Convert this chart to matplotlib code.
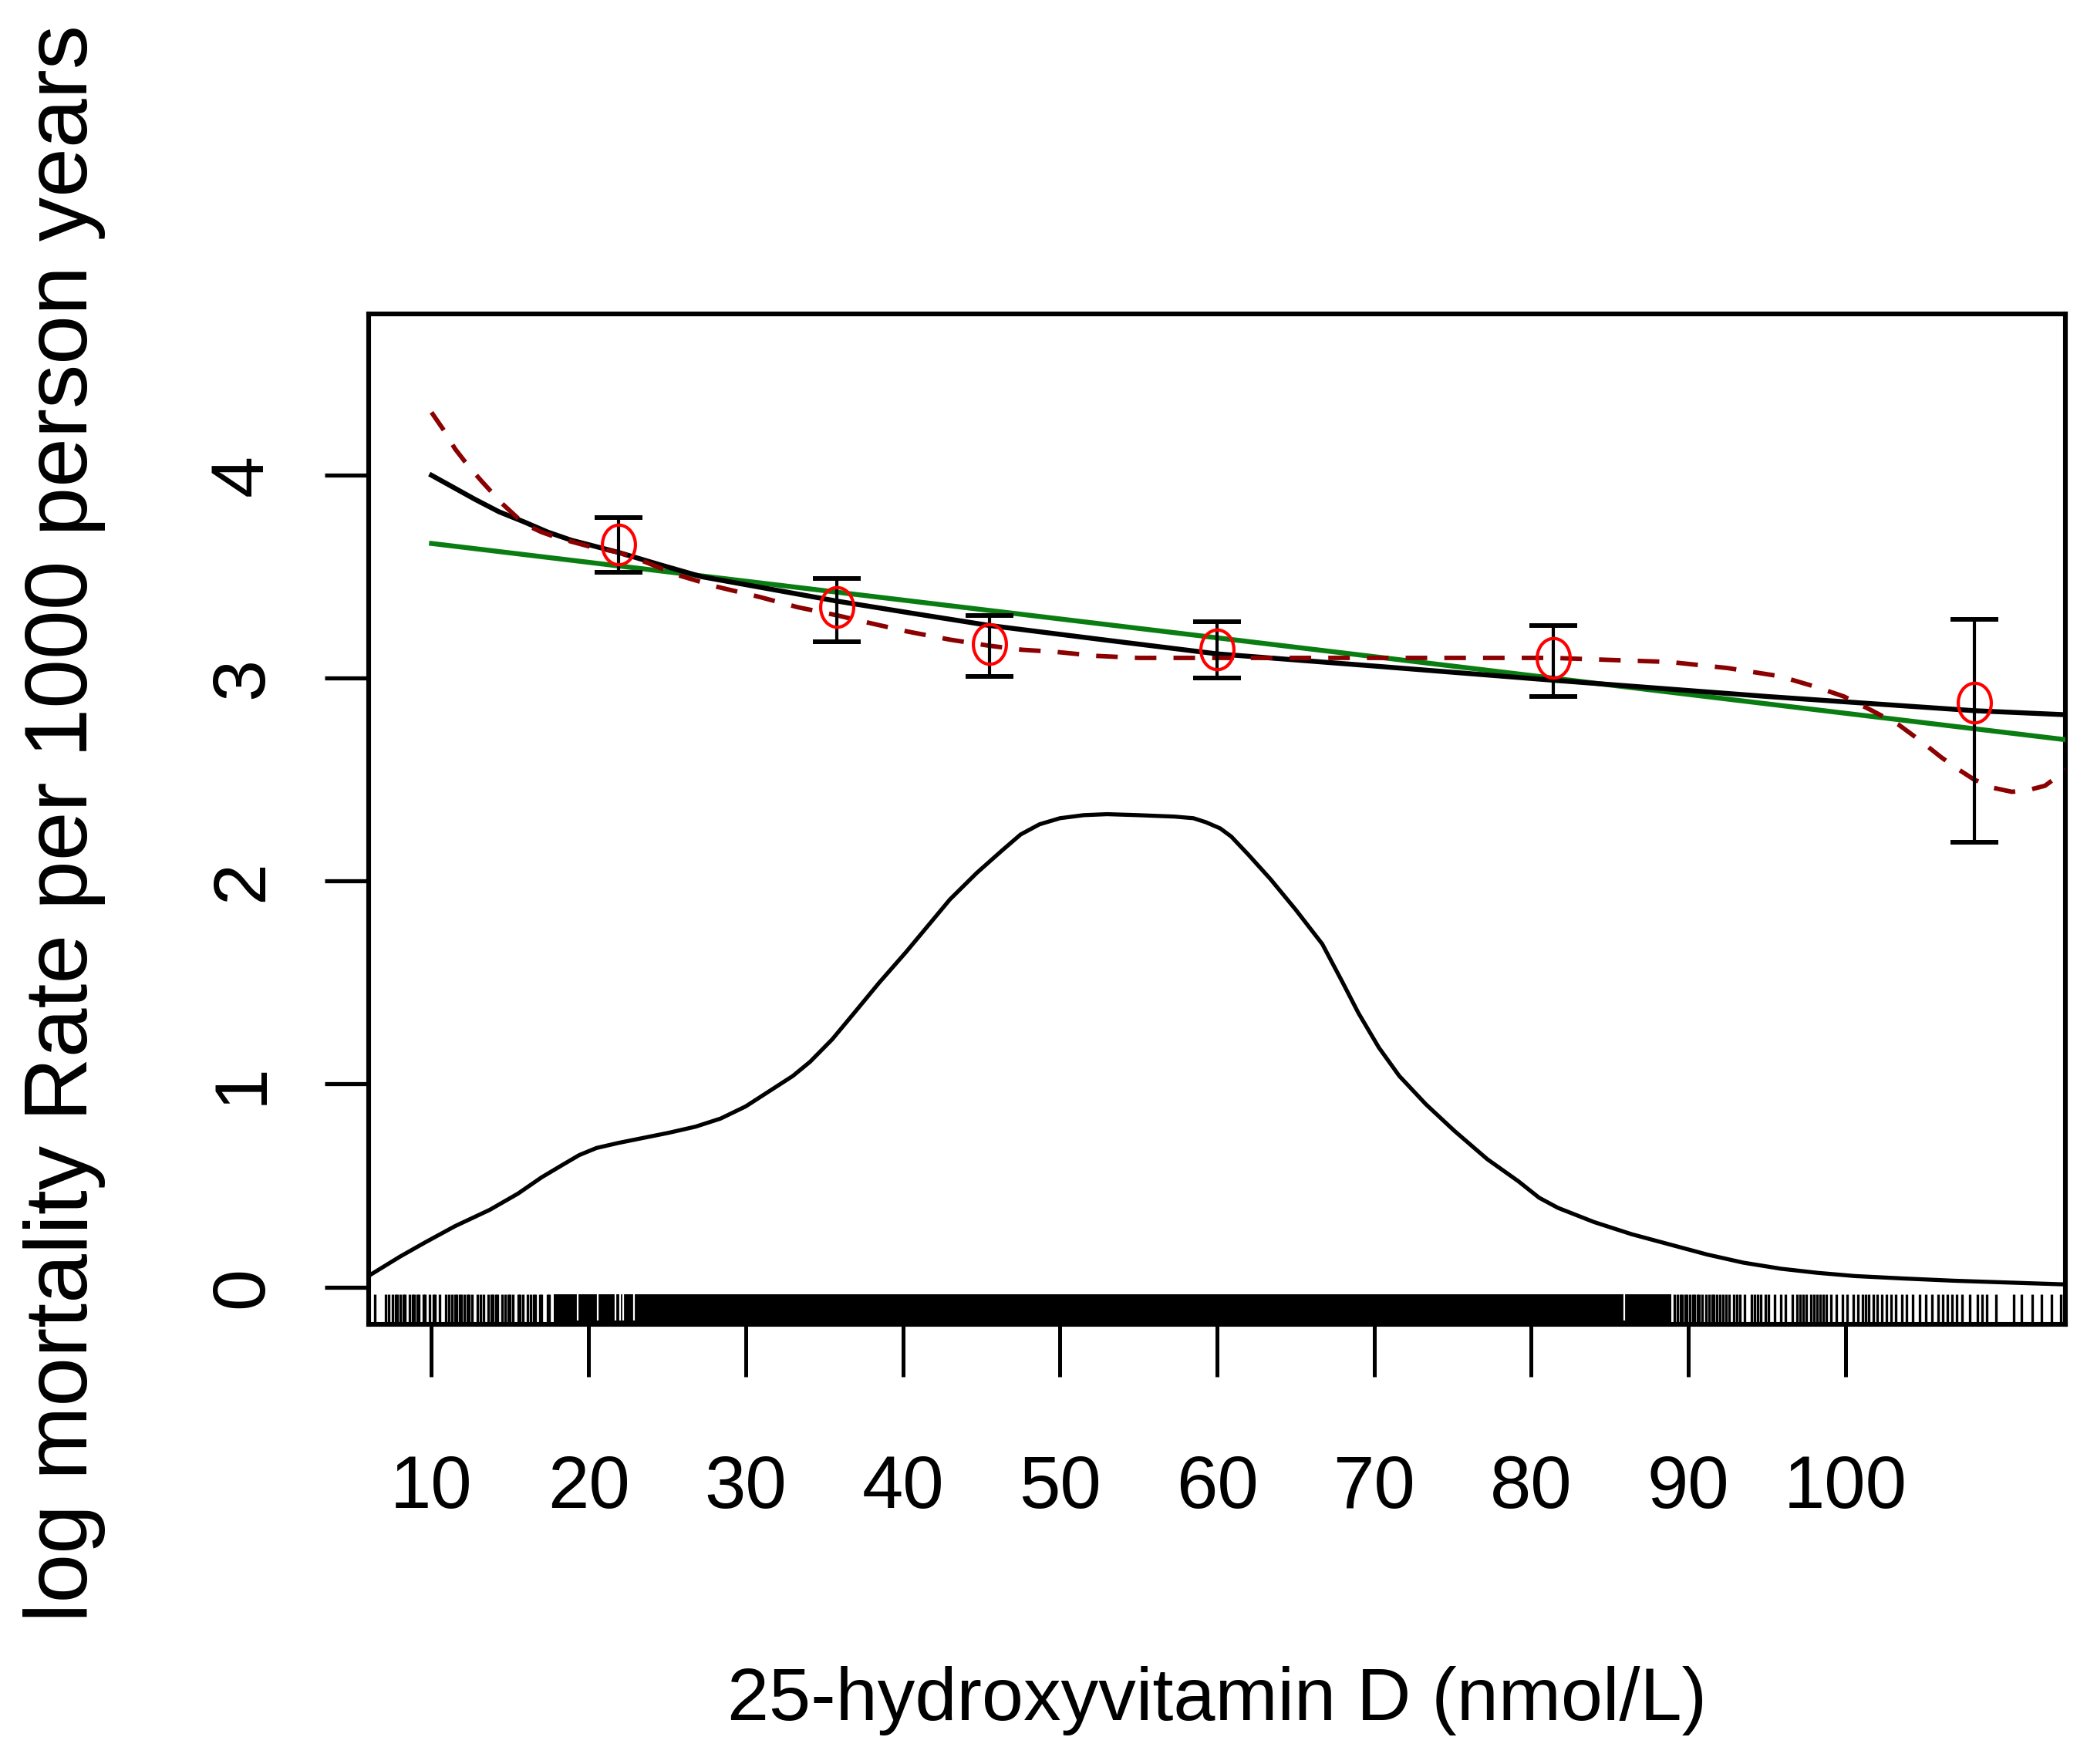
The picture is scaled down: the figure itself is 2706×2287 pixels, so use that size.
import matplotlib
matplotlib.use("Agg")
import numpy as np
import matplotlib.pyplot as plt
import matplotlib.transforms as mtransforms
from matplotlib.path import Path

plt.rcParams['font.family'] = ['Liberation Sans', 'DejaVu Sans']

# grouped estimates with confidence intervals
grp_x = [21.9, 35.8, 45.5, 60.0, 81.4, 108.2]
grp_y = [3.66, 3.35, 3.17, 3.14, 3.10, 2.88]
grp_lo = [3.52, 3.18, 3.01, 3.00, 2.91, 2.19]
grp_hi = [3.79, 3.49, 3.31, 3.28, 3.26, 3.29]

# smooth fit (solid black)
fit_x = [10, 11.4, 12.8, 14.3, 15.9, 17.4, 18.9, 20.4, 21.9, 24.5, 27.2, 31.5, 35.8,
         40.6, 45.5, 52.7, 60.0, 70.0, 81.4, 95.0, 108.2, 114.0]
fit_y = [4.00, 3.94, 3.88, 3.82, 3.77, 3.72, 3.68, 3.65, 3.62, 3.56, 3.50, 3.44, 3.38,
         3.32, 3.26, 3.19, 3.12, 3.06, 2.99, 2.91, 2.84, 2.82]

# linear fit (green)
lin_x = [10, 114]
lin_y = [3.664, 2.697]

# spline fit (dashed dark red)
spl_x = [10, 10.8, 11.5, 12.3, 13.2, 14.5, 15.9, 17.0, 18.1, 20.0, 21.9, 23.7, 25.6,
         28.2, 30.9, 33.3, 35.8, 38.0, 40.3, 43.0, 45.5, 47.6, 49.7, 52.3, 55.0, 57.5,
         60.0, 65.0, 71.5, 76.5, 81.4, 85.0, 88.8, 92.5, 95.8, 98.0, 99.9, 101.7, 103.4,
         104.8, 106.1, 107.2, 108.2, 109.4, 110.6, 111.7, 112.7, 113.4, 114.0]
spl_y = [4.31, 4.22, 4.13, 4.05, 3.97, 3.86, 3.76, 3.72, 3.69, 3.65, 3.62, 3.57, 3.51,
         3.45, 3.40, 3.35, 3.31, 3.27, 3.23, 3.19, 3.16, 3.14, 3.13, 3.11, 3.10, 3.10,
         3.10, 3.10, 3.10, 3.10, 3.10, 3.09, 3.08, 3.05, 3.01, 2.96, 2.91, 2.84, 2.77,
         2.69, 2.61, 2.55, 2.50, 2.46, 2.44, 2.45, 2.47, 2.51, 2.55]

# density of 25(OH)D (scaled)
dens_x = [6.0, 8.0, 9.6, 11.5, 13.7, 15.5, 17.0, 18.3, 19.4, 20.5, 21.9, 23.5, 25.1,
          26.8, 28.4, 30.0, 31.6, 33.0, 34.1, 35.5, 36.9, 38.5, 40.2, 41.6, 43.0, 44.7,
          46.3, 47.5, 48.7, 50.0, 51.5, 53.0, 55.0, 57.3, 58.5, 59.3, 60.2, 60.9, 62.0,
          63.4, 65.0, 66.7, 68.0, 69.0, 70.3, 71.6, 73.3, 75.1, 77.2, 79.2, 80.5, 81.7,
          84.0, 86.4, 88.8, 91.2, 93.5, 95.9, 98.2, 100.6, 103.7, 106.9, 110.4, 113.9]
dens_y = [0.055, 0.15, 0.22, 0.30, 0.38, 0.46, 0.54, 0.60, 0.65, 0.685, 0.71, 0.735, 0.76,
          0.79, 0.83, 0.89, 0.97, 1.04, 1.11, 1.22, 1.35, 1.50, 1.65, 1.78, 1.91, 2.04,
          2.15, 2.23, 2.28, 2.31, 2.325, 2.33, 2.325, 2.318, 2.31, 2.29, 2.26, 2.22, 2.13,
          2.01, 1.86, 1.69, 1.50, 1.35, 1.18, 1.04, 0.90, 0.77, 0.63, 0.52, 0.44, 0.39,
          0.32, 0.26, 0.21, 0.16, 0.12, 0.09, 0.07, 0.054, 0.042, 0.031, 0.022, 0.013]

# rug: sparse observations in the tails, solid band where they are too dense to separate
rug_left = [6.4, 7.1, 7.3, 7.5, 7.7, 7.8, 8.0, 8.2, 8.3, 8.6, 8.8, 8.9, 9.1, 9.2, 9.5,
            9.6, 9.9, 10.1, 10.2, 10.5, 10.9, 11.1, 11.3, 11.5, 11.6, 11.8, 11.9, 12.1,
            12.3, 12.4, 12.6, 12.9, 13.1, 13.3, 13.6, 13.8, 13.9, 14.1, 14.2, 14.5, 14.7,
            14.9, 15.0, 15.2, 15.5, 15.6, 15.8, 16.1, 16.3, 16.5, 16.6, 16.9, 17.0, 17.4, 17.5]
rug_dense = (17.8, 88.9)
rug_gaps = [19.3, 20.6, 21.7, 22.0, 22.2, 22.9, 85.9]
rug_right = [89.1, 89.3, 89.5, 89.6, 89.8, 89.9, 90.1, 90.3, 90.4, 90.6, 90.7, 90.9,
             91.1, 91.3, 91.5, 91.6, 91.8, 92.0, 92.2, 92.4, 92.6, 92.9, 93.1, 93.3,
             93.6, 94.0, 94.2, 94.4, 94.6, 94.9, 95.1, 95.5, 95.9, 96.2, 96.6, 96.9,
             97.1, 97.3, 97.5, 97.8, 98.0, 98.2, 98.4, 98.6, 98.8, 99.1, 99.4, 99.8,
             100.1, 100.5, 100.8, 101.1, 101.3, 101.5, 101.8, 102.0, 102.3, 102.6,
             102.9, 103.2, 103.6, 103.9, 104.3, 104.7, 105.1, 105.5, 105.9, 106.2,
             106.5, 106.8, 107.1, 107.4, 107.9, 108.4, 108.7, 109.0, 109.6, 110.7,
             111.2, 111.9, 112.5, 113.1, 113.7]

x_ticks = [10, 20, 30, 40, 50, 60, 70, 80, 90, 100]
y_ticks = [0, 1, 2, 3, 4]

W, H, DPI = 2706, 2287, 100
fig = plt.figure(figsize=(W / DPI, H / DPI), dpi=DPI)
ax = fig.add_axes([478 / W, 1 - 1717 / H, 2200 / W, 1310 / H])

# rug along the bottom of the box
rug_tr = mtransforms.blended_transform_factory(ax.transData, ax.transAxes)
ax.vlines(rug_left + rug_right, 0, 0.03, transform=rug_tr, color='black', lw=2.4)
ax.axvspan(rug_dense[0], rug_dense[1], ymin=0, ymax=0.03, color='black', lw=0)
ax.vlines(rug_gaps, 0.004, 0.03, transform=rug_tr, color='white', lw=1.6)

ax.plot(dens_x, dens_y, color='black', lw=3.8, solid_joinstyle='round')

ax.plot(lin_x, lin_y, color='#0a7d12', lw=4.6, zorder=4)
ax.plot(fit_x, fit_y, color='black', lw=4.6, zorder=5, solid_joinstyle='round')
ax.plot(spl_x, spl_y, color='#8b0000', lw=4.2, dashes=(4.8, 3.8), zorder=6)

yerr = [[y - lo for y, lo in zip(grp_y, grp_lo)], [hi - y for y, hi in zip(grp_y, grp_hi)]]
ax.errorbar(grp_x, grp_y, yerr=yerr, fmt='none', ecolor='black', elinewidth=3.0,
            capsize=22.5, capthick=4.3, zorder=7)

# slightly tall open circle, as in the source figure
t = np.linspace(0, 2 * np.pi, 60)
ell = Path(np.column_stack([np.cos(t) / 1.2, np.sin(t)]), closed=True)
ax.plot(grp_x, grp_y, linestyle='none', marker=ell, ms=37, mfc='none', mec='#ff0000',
        mew=3.0, zorder=8)

ax.set_xlim(6, 114)
ax.set_ylim(-0.184, 4.795)

ax.set_xticks(x_ticks)
ax.set_xticklabels([str(v) for v in x_ticks])
ax.set_yticks(y_ticks)
ax.set_yticklabels([str(v) for v in y_ticks])
ax.tick_params(axis='x', length=49, width=3.6, pad=72, labelsize=69)
ax.tick_params(axis='y', length=41, width=3.8, pad=44, labelsize=70)
plt.setp(ax.get_yticklabels(), rotation=90, va='center', ha='right')

for sp in ax.spines.values():
    sp.set_linewidth(4.4)

fig.text(0.5833, 0.0249, '25-hydroxyvitamin D (nmol/L)', ha='center', va='baseline',
         fontsize=70)
fig.text(0.031, 0.5334, 'log mortality Rate per 1000 person years', ha='center',
         va='center', rotation=90, fontsize=82.5)

fig.savefig('out.png', dpi=DPI, facecolor='white')
